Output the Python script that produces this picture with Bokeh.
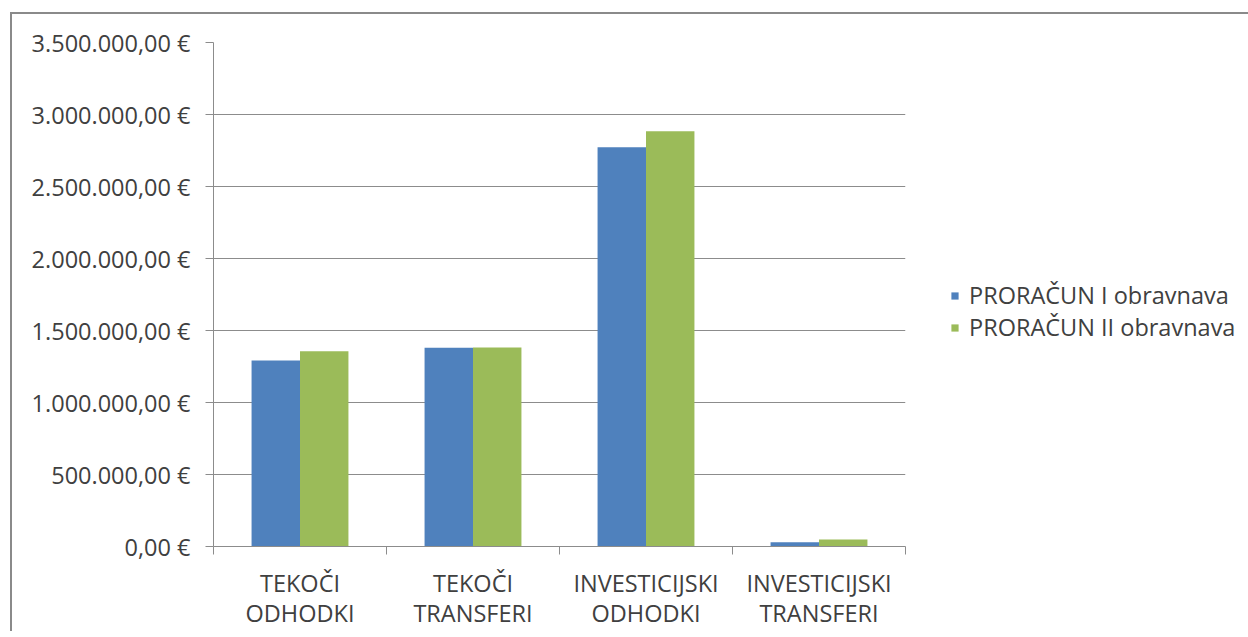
from bokeh.plotting import figure
from bokeh.models import ColumnDataSource, Range1d, FixedTicker, Legend, LegendItem
from bokeh.embed import file_html
from bokeh.resources import INLINE

# ---- data ----
categories = ["TEKOČI\nODHODKI", "TEKOČI\nTRANSFERI", "INVESTICIJSKI\nODHODKI", "INVESTICIJSKI\nTRANSFERI"]
series_names = ["PRORAČUN I obravnava", "PRORAČUN II obravnava"]
proracun_1 = [1292000, 1381000, 2773000, 30000]
proracun_2 = [1356000, 1382000, 2884000, 49000]
y_ticks = [0, 500000, 1000000, 1500000, 2000000, 2500000, 3000000, 3500000]
y_tick_labels = ["0,00 €", "500.000,00 €", "1.000.000,00 €", "1.500.000,00 €",
                 "2.000.000,00 €", "2.500.000,00 €", "3.000.000,00 €", "3.500.000,00 €"]

FONT = "Open Sans"
FS = "23.5px"
TXT = "#404040"
GRID = "#8c8c8c"
BLUE = "#4F81BD"
GREEN = "#9BBB59"

n = len(categories)
centers = [i + 0.5 for i in range(n)]
bounds = [float(i) for i in range(n + 1)]

src = ColumnDataSource(dict(
    x1=[c - 0.14 for c in centers],
    x2=[c + 0.14 for c in centers],
    v1=proracun_1,
    v2=proracun_2,
))

p = figure(frame_width=692, frame_height=504, output_backend="svg", toolbar_location=None,
           x_range=Range1d(0, n), y_range=Range1d(0, y_ticks[-1]),
           min_border_left=201, min_border_right=343, min_border_top=28, min_border_bottom=80,
           background_fill_color="white", border_fill_color="white")
p.styles = {"margin-left": "10px", "margin-top": "12px",
            "border-left": "2px solid #8a8a8a", "border-top": "2px solid #8a8a8a"}
p.outline_line_color = None

r1 = p.vbar(x="x1", top="v1", width=0.28, source=src, fill_color=BLUE, line_color=None)
r2 = p.vbar(x="x2", top="v2", width=0.28, source=src, fill_color=GREEN, line_color=None)

# y axis
p.yaxis.ticker = FixedTicker(ticks=y_ticks, minor_ticks=[])
p.yaxis.major_label_overrides = {t: l for t, l in zip(y_ticks, y_tick_labels)}
p.yaxis.major_label_text_font = FONT
p.yaxis.major_label_text_font_size = FS
p.yaxis.major_label_text_color = TXT
p.yaxis.axis_line_color = GRID
p.yaxis.major_tick_line_color = GRID
p.yaxis.major_tick_out = 8
p.yaxis.major_tick_in = 0
p.yaxis.minor_tick_line_color = None
p.yaxis.major_label_standoff = 15

# x axis
p.xaxis.ticker = FixedTicker(ticks=centers, minor_ticks=bounds)
p.xaxis.major_label_overrides = {c: l for c, l in zip(centers, categories)}
p.xaxis.major_label_text_font = FONT
p.xaxis.major_label_text_font_size = FS
p.xaxis.major_label_text_color = TXT
p.xaxis.major_label_text_line_height = 0.94
p.xaxis.axis_line_color = GRID
p.xaxis.major_tick_line_color = None
p.xaxis.major_tick_out = 0
p.xaxis.major_tick_in = 0
p.xaxis.minor_tick_line_color = GRID
p.xaxis.minor_tick_out = 8
p.xaxis.minor_tick_in = 0
p.xaxis.major_label_standoff = 12

p.xgrid.grid_line_color = None
p.ygrid.ticker = FixedTicker(ticks=y_ticks)
p.ygrid.grid_line_color = GRID
p.ygrid.grid_line_width = 1

legend = Legend(items=[LegendItem(label=series_names[0], renderers=[r1]),
                       LegendItem(label=series_names[1], renderers=[r2])],
                location=(45, 203), orientation="vertical",
                glyph_width=9, glyph_height=9, label_standoff=10,
                label_text_font=FONT, label_text_font_size=FS, label_text_color=TXT,
                padding=0, margin=0, spacing=0, border_line_color=None,
                background_fill_alpha=0, label_height=28)
p.add_layout(legend, "right")

open("out.html", "w").write(file_html(p, INLINE))
